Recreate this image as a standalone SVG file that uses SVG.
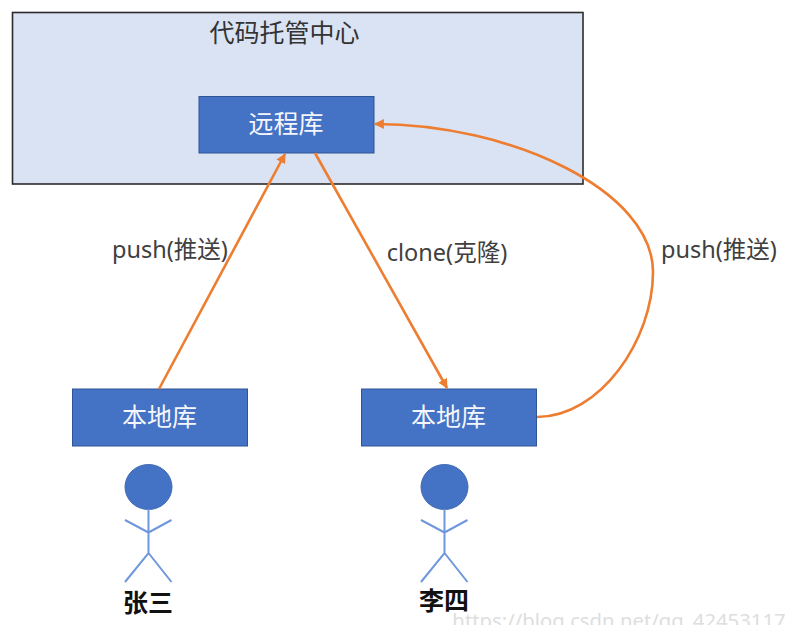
<svg xmlns="http://www.w3.org/2000/svg" width="785" height="625" viewBox="0 0 785 625">
<style>
text{font-family:"Noto Sans","Noto Sans CJK SC",sans-serif;text-anchor:middle}
.box{fill:#4472c4;stroke:#2f5597;stroke-width:1}
.w{fill:#f4f6fb;font-size:25px}
.l{fill:#404040;font-size:23.500px}
.n{fill:#111;font-size:25px;font-weight:700}
.c{fill:none;stroke:#ed7d31;stroke-width:2.6}
.head{fill:#4472c4;stroke:#3f69b2;stroke-width:1}
.fig{fill:none;stroke:#6f97dc;stroke-width:2}
</style>
<defs>
<marker id="a" viewBox="0 0 10 10" refX="9" refY="5" markerWidth="3.800" markerHeight="3.800" orient="auto"><path d="M0 0L10 5L0 10z" fill="#ed7d31"/></marker>
</defs>
<rect width="785" height="625" fill="#fff"/>
<g id="hub">
<rect x="12.500" y="12.500" width="570.500" height="171.500" fill="#dae3f3" stroke="#2b2b2b" stroke-width="1.600"/>
<text x="284.500" y="42" style="font-size:25px" fill="#333">代码托管中心</text>
</g>
<g id="remote"><rect class="box" x="199" y="96.500" width="175" height="56.500"/><text class="w" x="286" y="133">远程库</text></g>
<g id="local1"><rect class="box" x="72.500" y="389" width="175" height="57"/><text class="w" x="159.500" y="426">本地库</text></g>
<g id="local2"><rect class="box" x="361.500" y="389" width="175" height="57"/><text class="w" x="448.500" y="426">本地库</text></g>
<g id="person1">
<ellipse class="head" cx="148.500" cy="487" rx="23.500" ry="22.500"/>
<path class="fig" d="M148.500 509V553M125 520L148.500 532.500L171.500 520M125 582L148.500 553L171.500 582"/>
<text class="n" x="148" y="612">张三</text>
</g>
<g id="person2">
<ellipse class="head" cx="444.500" cy="487" rx="23.500" ry="22.500"/>
<path class="fig" d="M444.500 509V553M421 520L444.500 532.500L467.500 520M421 582L444.500 553L467.500 582"/>
<text class="n" x="444" y="610">李四</text>
</g>
<g id="connectors">
<path class="c" marker-end="url(#a)" d="M159 389L285 154"/>
<path class="c" marker-end="url(#a)" d="M315 153L447 388"/>
<path class="c" marker-end="url(#a)" d="M537 417C600 417 653 340 653 272C653 190 510 124 375 124"/>
</g>
<g id="labels">
<text class="l" x="170" y="258">push(推送)</text>
<text class="l" x="447" y="261">clone(克隆)</text>
<text class="l" x="719" y="258">push(推送)</text>
</g>
<text x="619" y="628" style="font-size:20.300px" fill="#dedede">https://blog.csdn.net/qq_42453117</text>
</svg>
